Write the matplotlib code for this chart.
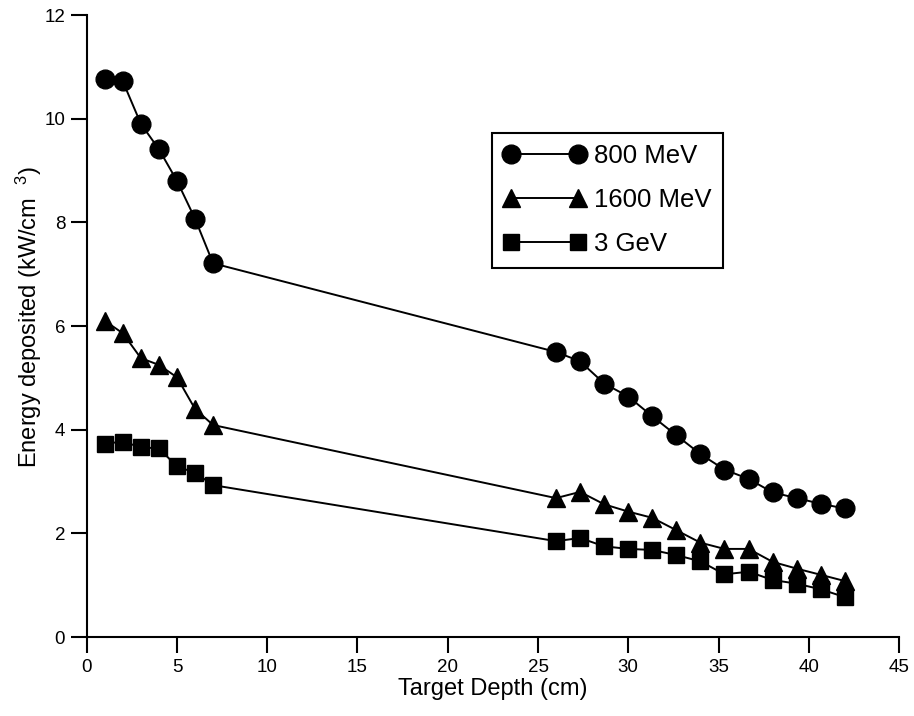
"""Energy deposited along the target depth for three beam energies."""
import matplotlib
matplotlib.use("Agg")
import matplotlib.pyplot as plt

# Depth positions (cm)
depth_front = [1, 2, 3, 4, 5, 6, 7]
depth_back = [26, 27.33, 28.67, 30, 31.33, 32.67, 34, 35.33, 36.67, 38,
              39.33, 40.67, 42]
depth = depth_front + depth_back

# Energy deposited (kW/cm^3)
e_800mev = [10.76, 10.72, 9.90, 9.41, 8.80, 8.07, 7.21,
            5.50, 5.32, 4.89, 4.64, 4.26, 3.89, 3.53, 3.23, 3.05, 2.79,
            2.68, 2.57, 2.48]
e_1600mev = [6.10, 5.86, 5.38, 5.25, 5.01, 4.40, 4.09,
             2.68, 2.80, 2.56, 2.42, 2.30, 2.06, 1.82, 1.70, 1.70, 1.45,
             1.32, 1.20, 1.08]
e_3gev = [3.73, 3.77, 3.66, 3.64, 3.29, 3.17, 2.93,
          1.85, 1.91, 1.75, 1.70, 1.68, 1.58, 1.46, 1.21, 1.26, 1.10,
          1.03, 0.92, 0.77]

series_labels = ["800 MeV", "1600 MeV", "3 GeV"]
x_ticks = [0, 5, 10, 15, 20, 25, 30, 35, 40, 45]
y_ticks = [0, 2, 4, 6, 8, 10, 12]

plt.rcParams['font.family'] = ['Liberation Sans', 'DejaVu Sans']
plt.rcParams['mathtext.fontset'] = 'custom'
plt.rcParams['mathtext.rm'] = 'Liberation Sans'
plt.rcParams['mathtext.it'] = 'Liberation Sans'

fig = plt.figure(figsize=(9.14, 7.16), dpi=100)
ax = fig.add_axes([0.0949, 0.1103, 0.8887, 0.8687])

styles = [('o', 13.5), ('^', 13), ('s', 11.5)]
for values, label, (marker, size) in zip([e_800mev, e_1600mev, e_3gev],
                                          series_labels, styles):
    ax.plot(depth, values, color='black', linewidth=1.4, marker=marker,
            markersize=size, markerfacecolor='black',
            markeredgecolor='black', label=label, clip_on=False)

ax.set_xlim(0, 45)
ax.set_ylim(0, 12)
ax.set_xticks(x_ticks)
ax.set_yticks(y_ticks)
ax.tick_params(direction='out', length=11.5, width=1.5, labelsize=13.5,
               pad=4, colors='black')
for side in ['top', 'right']:
    ax.spines[side].set_visible(False)
for side in ['left', 'bottom']:
    ax.spines[side].set_linewidth(1.5)

ax.set_xlabel('Target Depth (cm)', fontsize=17, labelpad=2)
ax.set_ylabel(r'Energy deposited (kW/cm  $^{3}$)', fontsize=17)
ax.yaxis.set_label_coords(-0.0525, 0.515)

leg = ax.legend(loc='upper left', bbox_to_anchor=(0.499, 0.811),
                fontsize=18.5, numpoints=2, handlelength=3.18,
                handletextpad=0.35, labelspacing=0.78, borderpad=0.45,
                markerscale=1.0, fancybox=False, framealpha=1,
                edgecolor='black', borderaxespad=0)
leg.get_frame().set_linewidth(1.5)

fig.savefig('out.png', dpi=100)
plt.close(fig)
